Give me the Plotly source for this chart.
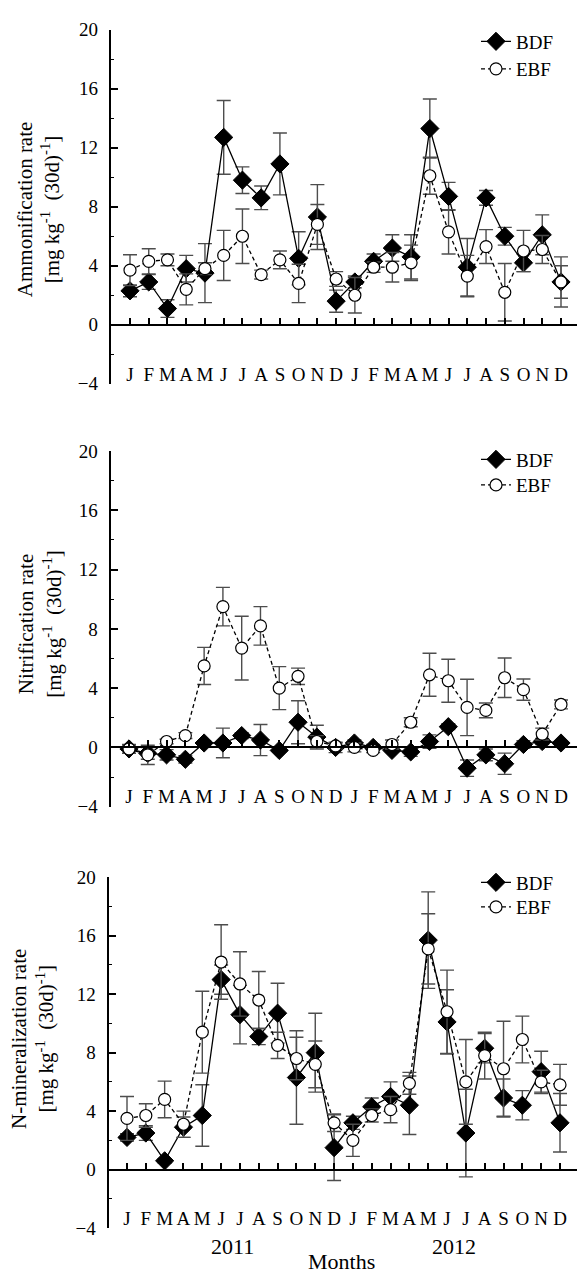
import plotly.graph_objects as go

# ---------------- data ----------------
months = ["J", "F", "M", "A", "M", "J", "J", "A", "S", "O", "N", "D"] * 2
month_idx = list(range(24))

amm_bdf = [2.3, 2.9, 1.1, 3.8, 3.5, 12.7, 9.8, 8.6, 10.9, 4.5, 7.3, 1.6,
           2.9, 4.3, 5.2, 4.6, 13.3, 8.7, 3.9, 8.6, 6.0, 4.2, 6.1, 2.9]
amm_bdf_err = [0.4, 0.5, 0.6, 0.9, 2.0, 2.5, 0.9, 0.8, 2.1, 1.8, 2.2, 0.75,
               0.4, 0.5, 0.9, 1.5, 2.0, 0.95, 1.95, 0.5, 0.6, 0.6, 1.35, 1.7]
amm_ebf = [3.7, 4.3, 4.4, 2.4, 3.8, 4.7, 6.0, 3.4, 4.4, 2.8, 6.8, 3.1,
           2.0, 3.9, 3.9, 4.2, 10.1, 6.3, 3.3, 5.3, 2.2, 5.0, 5.1, 2.9]
amm_ebf_err = [1.05, 0.85, 0.4, 1.05, 0.4, 1.7, 1.85, 0.3, 0.6, 1.3, 1.35, 0.5,
               1.2, 0.35, 1.0, 1.2, 1.25, 1.5, 1.4, 1.15, 1.95, 1.4, 0.95, 1.1]

nit_bdf = [-0.1, -0.4, -0.5, -0.8, 0.3, 0.3, 0.8, 0.5, -0.2, 1.7, 0.7, 0.0,
           0.3, 0.0, -0.2, -0.3, 0.4, 1.4, -1.4, -0.5, -1.1, 0.2, 0.4, 0.3]
nit_bdf_err = [0.3, 0.4, 0.35, 0.25, 0.15, 1.0, 0.2, 1.05, 0.1, 1.45, 0.8, 0.35,
               0.2, 0.2, 0.1, 0.3, 0.45, 0.2, 0.55, 0.4, 0.72, 0.25, 0.2, 0.1]
nit_ebf = [-0.1, -0.5, 0.4, 0.8, 5.5, 9.5, 6.7, 8.2, 4.0, 4.8, 0.4, 0.1,
           0.0, -0.2, 0.2, 1.7, 4.9, 4.5, 2.7, 2.5, 4.7, 3.9, 0.9, 2.9]
nit_ebf_err = [0.2, 0.65, 0.15, 0.2, 1.25, 1.3, 2.15, 1.3, 1.45, 0.55, 0.4, 0.2,
               0.3, 0.15, 0.3, 0.3, 1.45, 1.45, 1.9, 0.5, 1.33, 0.72, 0.4, 0.3]

min_bdf = [2.2, 2.5, 0.6, 2.9, 3.7, 13.0, 10.6, 9.1, 10.7, 6.3, 8.0, 1.5,
           3.2, 4.3, 5.0, 4.4, 15.7, 10.1, 2.5, 8.3, 4.9, 4.4, 6.7, 3.2]
min_bdf_err = [0.25, 0.5, 0.15, 0.7, 2.1, 1.0, 2.0, 0.55, 2.05, 3.2, 2.7, 2.25,
               0.45, 0.6, 1.0, 2.0, 3.3, 2.2, 3.0, 1.0, 1.3, 1.0, 1.4, 2.0]
min_ebf = [3.5, 3.7, 4.8, 3.1, 9.4, 14.2, 12.7, 11.6, 8.5, 7.6, 7.2, 3.2,
           2.0, 3.7, 4.1, 5.9, 15.1, 10.8, 6.0, 7.8, 6.9, 8.9, 6.0, 5.8]
min_ebf_err = [1.5, 0.8, 1.25, 0.9, 2.8, 2.55, 2.2, 1.95, 0.9, 1.45, 1.6, 0.6,
               1.1, 0.45, 0.9, 0.75, 2.4, 2.85, 2.9, 1.6, 3.25, 1.6, 0.8, 1.4]

y_ticks = [-4, 0, 4, 8, 12, 16, 20]
series_names = ["BDF", "EBF"]
year_labels = ["2011", "2012"]

# ---------------- layout geometry ----------------
W, H = 577, 1283
FONT = "Liberation Serif, Times New Roman, serif"

panels = [
    dict(title="Ammonification rate", bdf=amm_bdf, bdf_err=amm_bdf_err,
         ebf=amm_ebf, ebf_err=amm_ebf_err,
         top=20, bot=380, axis_x=110.7, j=130, d=561,
         title_x=38.5, title_y=203, leg_y=(32, 60)),
    dict(title="Nitrification rate", bdf=nit_bdf, bdf_err=nit_bdf_err,
         ebf=nit_ebf, ebf_err=nit_ebf_err,
         top=448.3, bot=810, axis_x=110.5, j=129, d=561,
         title_x=40, title_y=624, leg_y=(457, 483)),
    dict(title="N-mineralization rate", bdf=min_bdf, bdf_err=min_bdf_err,
         ebf=min_ebf, ebf_err=min_ebf_err,
         top=881.7, bot=1238.3, axis_x=108.5, j=127, d=560,
         title_x=33, title_y=1046, leg_y=(887, 912)),
]

fig = go.Figure()
layout = dict(width=W, height=H, margin=dict(l=0, r=0, t=0, b=0),
              paper_bgcolor="white", plot_bgcolor="white",
              font=dict(family=FONT, size=19, color="black"),
              annotations=[])

leg_n = 0
for k, p in enumerate(panels, start=1):
    xa = "x" if k == 1 else f"x{k}"
    ya = "y" if k == 1 else f"y{k}"
    xkey = "xaxis" if k == 1 else f"xaxis{k}"
    ykey = "yaxis" if k == 1 else f"yaxis{k}"

    dom_y = [(H - p["bot"]) / H, (H - p["top"]) / H]
    zero_frac = dom_y[0] + (4 / 24) * (dom_y[1] - dom_y[0])
    sp = (p["d"] - p["j"]) / 23
    xlo = -(p["j"] - p["axis_x"]) / sp
    xhi = 23 + (W - p["d"]) / sp

    styles = [
        dict(name=series_names[0], y=p["bdf"], err=p["bdf_err"],
             marker=dict(symbol="diamond", size=14, color="black",
                         line=dict(color="black", width=1)),
             line=dict(color="black", width=1.3)),
        dict(name=series_names[1], y=p["ebf"], err=p["ebf_err"],
             marker=dict(symbol="circle", size=12, color="white",
                         line=dict(color="black", width=1.2)),
             line=dict(color="black", width=1.3, dash="4px,3px")),
    ]
    for s, ly in zip(styles, p["leg_y"]):
        leg_n += 1
        lkey = "legend" if leg_n == 1 else f"legend{leg_n}"
        fig.add_trace(go.Scatter(
            x=month_idx, y=s["y"], name=s["name"], mode="lines+markers",
            marker=s["marker"], line=s["line"],
            error_y=dict(type="data", array=s["err"], visible=True,
                         color="#4d4d4d", thickness=1.4, width=7),
            xaxis=xa, yaxis=ya, legend=lkey, showlegend=True))
        layout[lkey] = dict(x=476 / W, y=(H - ly) / H, xanchor="left",
                            yanchor="middle", bgcolor="rgba(0,0,0,0)",
                            borderwidth=0, itemwidth=30,
                            font=dict(family=FONT, size=19, color="black"))

    layout[xkey] = dict(domain=[p["axis_x"] / W, 1], range=[xlo, xhi],
                        anchor="free", position=zero_frac,
                        tickmode="array", tickvals=month_idx, ticktext=months,
                        ticks="inside", ticklen=6, tickwidth=1.5,
                        tickcolor="black", showline=True, linewidth=2,
                        linecolor="black", showgrid=False, zeroline=False,
                        ticklabelstandoff=32, ticklabeloverflow="allow",
                        tickfont=dict(family=FONT, size=19, color="black"))
    layout[ykey] = dict(domain=dom_y, range=[-4, 20], anchor=xa,
                        tickmode="array", tickvals=y_ticks,
                        ticks="inside", ticklen=7, tickwidth=1.5,
                        tickcolor="black", showline=True, linewidth=2,
                        linecolor="black", showgrid=False, zeroline=False,
                        minor=dict(ticks="inside", ticklen=3, dtick=2,
                                   tick0=0, tickwidth=1.2, tickcolor="black",
                                   showgrid=False),
                        ticklabelstandoff=7,
                        tickfont=dict(family=FONT, size=19, color="black"))

    layout["annotations"].append(dict(
        text=p["title"] + "<br>[mg kg<sup>-1</sup>  (30d)<sup>-1</sup>]",
        xref="paper", yref="paper", x=p["title_x"] / W, y=(H - p["title_y"]) / H,
        xanchor="center", yanchor="middle", textangle=-90, showarrow=False,
        font=dict(family=FONT, size=21, color="black")))

# year labels and x title
for txt, px in zip(year_labels, [232, 454]):
    layout["annotations"].append(dict(
        text=txt, xref="paper", yref="paper", x=px / W, y=(H - 1257) / H,
        xanchor="center", yanchor="middle", showarrow=False,
        font=dict(family=FONT, size=22, color="black")))
layout["annotations"].append(dict(
    text="Months", xref="paper", yref="paper", x=341 / W, y=(H - 1272) / H,
    xanchor="center", yanchor="middle", showarrow=False,
    font=dict(family=FONT, size=22, color="black")))

fig.update_layout(**layout)
fig.write_html(
    "out.html",
    config={"displayModeBar": False},
    post_script=("document.documentElement.style.margin='0px';"
                 "document.body.style.margin='0px';"
                 "document.body.style.padding='0px';"
                 "document.body.style.overflow='hidden';"),
)
